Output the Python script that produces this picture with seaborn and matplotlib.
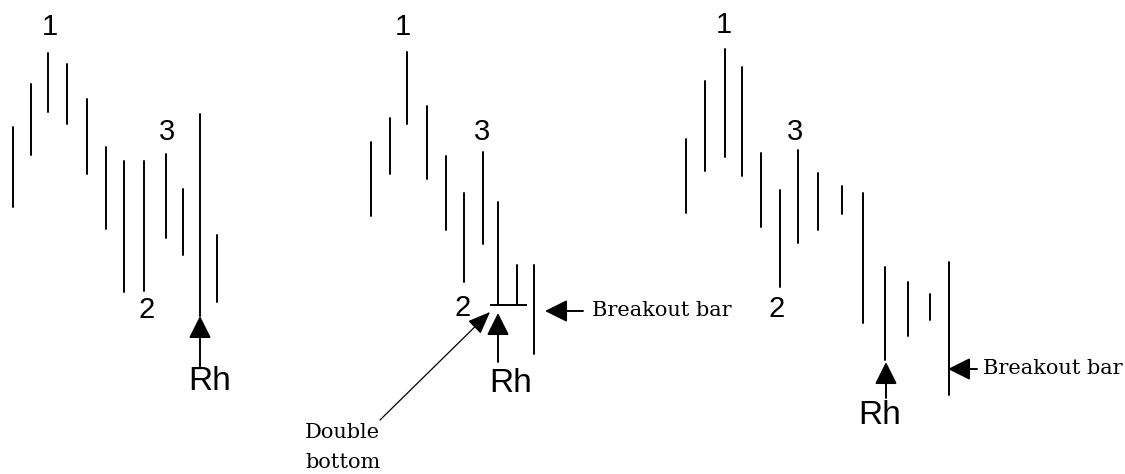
import pandas as pd
import seaborn as sns
import matplotlib.pyplot as plt

# bar time (x) and high / low prices for the three setups
p1_x = [13, 31, 48, 67, 87, 106, 124, 144, 166, 183, 200, 217]
p1_high = [347, 390, 421, 410, 375, 327, 313, 313, 320, 285, 360, 239]
p1_low = [267, 319, 362, 350, 300, 245, 182, 183, 236, 219, 158, 172]

p2_x = [371, 390, 407, 427, 446, 464, 483, 498, 517, 534]
p2_high = [332, 356, 422, 368, 318, 281, 322, 272, 209, 209]
p2_low = [258, 300, 350, 295, 244, 192, 230, 169, 169, 120]
p2_double_bottom = 169

p3_x = [686, 705, 725, 742, 761, 780, 798, 818, 842, 863, 885, 908, 930, 949]
p3_high = [335, 393, 425, 407, 321, 284, 324, 301, 288, 281, 207, 192, 180, 212]
p3_low = [261, 303, 317, 298, 247, 187, 231, 244, 260, 151, 114, 138, 154, 79]


def bars_frame(panel, xs, highs, lows):
    rows = []
    for i, (x, h, l) in enumerate(zip(xs, highs, lows)):
        rows.append({'panel': panel, 'bar': f'{panel}-{i}', 'x': x, 'price': h})
        rows.append({'panel': panel, 'bar': f'{panel}-{i}', 'x': x, 'price': l})
    return pd.DataFrame(rows)


df = pd.concat([
    bars_frame(1, p1_x, p1_high, p1_low),
    bars_frame(2, p2_x, p2_high, p2_low),
    bars_frame(3, p3_x, p3_high, p3_low),
], ignore_index=True)

sns.set_theme(style='white')
plt.rcParams['font.family'] = ['Liberation Sans', 'DejaVu Sans']

fig = plt.figure(figsize=(11.25, 4.74), dpi=100)
ax = fig.add_axes([0, 0, 1, 1])

sns.lineplot(data=df, x='x', y='price', units='bar', estimator=None,
             sort=False, color='black', linewidth=1.4, ax=ax, legend=False)

# double bottom line in the middle setup
ax.hlines(p2_double_bottom, 490, 527, color='black', linewidth=1.4)

ax.set_xlim(0, 1125)
ax.set_ylim(0, 474)
ax.axis('off')


def arrow(tip, tail, style='-|>', scale=34, lw=1.4):
    ax.annotate('', xy=tip, xytext=tail,
                arrowprops=dict(arrowstyle=style, mutation_scale=scale, lw=lw,
                                color='black', shrinkA=0, shrinkB=0))


def label(x, y, s, size=21):
    ax.text(x, y, s, fontsize=size, ha='center', va='center', color='black')


def note(x, y, s):
    ax.text(x, y, s, fontsize=15, family='DejaVu Serif', ha='left',
            va='center', color='black')


# setup 1
label(50, 447, '1')
label(167, 342, '3')
label(147, 164, '2')
label(210, 92, 'Rh', 24)
arrow((200, 158), (200, 107))

# setup 2
label(403, 447, '1')
label(482, 342, '3')
label(463, 166, '2')
label(511, 90, 'Rh', 24)
arrow((498, 161), (498, 112))
arrow((545, 163), (583, 163))
note(592, 163, 'Breakout bar')
arrow((490, 162), (380, 54), style='-|>,head_length=0.5,head_width=0.2',
      scale=28, lw=0.9)
note(305, 42, 'Double')
note(305, 12, 'bottom')

# setup 3
label(724, 449, '1')
label(795, 342, '3')
label(777, 165, '2')
label(880, 59, 'Rh', 24)
arrow((886, 112), (886, 76))
arrow((948, 105), (977, 105))
note(983, 105, 'Breakout bar')

fig.savefig('out.png', dpi=100)
